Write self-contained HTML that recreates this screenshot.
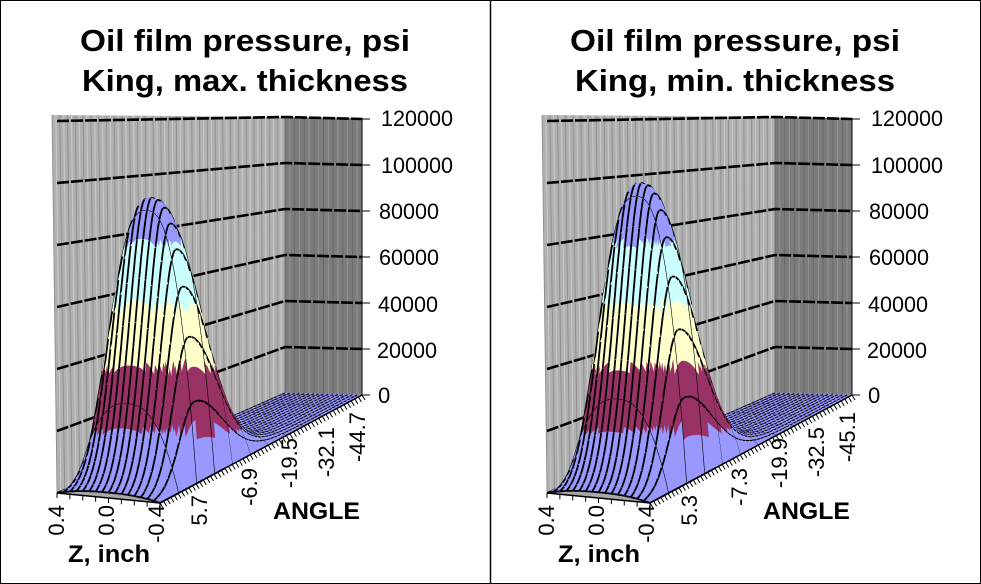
<!DOCTYPE html>
<html><head><meta charset="utf-8"><style>
html,body{margin:0;padding:0;background:#fff}
svg{display:block}
text{font-family:"Liberation Sans",Arial,sans-serif}
</style></head><body>
<svg id="s" width="981" height="584" viewBox="0 0 981 584" xmlns="http://www.w3.org/2000/svg">
<rect x="0.5" y="0.5" width="980" height="583" fill="#fff" stroke="#000"/>
<line x1="490.5" y1="0" x2="490.5" y2="584" stroke="#000" stroke-width="1.5"/>
<g id="c0"></g><g id="c1" transform="translate(490,0)"></g>
<g font-weight="bold" font-size="31" text-anchor="middle">
<text x="245" y="51" textLength="330" lengthAdjust="spacingAndGlyphs">Oil film pressure, psi</text>
<text x="245" y="91" textLength="326" lengthAdjust="spacingAndGlyphs">King, max. thickness</text>
<text x="735" y="51" textLength="330" lengthAdjust="spacingAndGlyphs">Oil film pressure, psi</text>
<text x="735" y="91" textLength="320" lengthAdjust="spacingAndGlyphs">King, min. thickness</text>
</g>
<g font-size="22">
<text x="381" y="126" textLength="72" lengthAdjust="spacingAndGlyphs">120000</text><text x="381" y="173" textLength="72" lengthAdjust="spacingAndGlyphs">100000</text><text x="379" y="219" textLength="60" lengthAdjust="spacingAndGlyphs">80000</text><text x="379" y="265" textLength="60" lengthAdjust="spacingAndGlyphs">60000</text><text x="378" y="312" textLength="60" lengthAdjust="spacingAndGlyphs">40000</text><text x="377" y="358" textLength="60" lengthAdjust="spacingAndGlyphs">20000</text><text x="378" y="403">0</text>
<text transform="translate(64,505) rotate(-90)" text-anchor="end">0.4</text>
<text transform="translate(114,505) rotate(-90)" text-anchor="end">0.0</text>
<text transform="translate(164,505) rotate(-90)" text-anchor="end">-0.4</text>
<text transform="translate(207,495) rotate(-90)" text-anchor="end">5.7</text>
<text transform="translate(257,468) rotate(-90)" text-anchor="end">-6.9</text>
<text transform="translate(297,438) rotate(-90)" text-anchor="end">-19.5</text>
<text transform="translate(334,427) rotate(-90)" text-anchor="end">-32.1</text>
<text transform="translate(365,412) rotate(-90)" text-anchor="end">-44.7</text>
<text x="273" y="519" font-weight="bold" font-size="24" textLength="87" lengthAdjust="spacingAndGlyphs">ANGLE</text>
<text x="68" y="562" font-weight="bold" font-size="24" textLength="82" lengthAdjust="spacingAndGlyphs">Z, inch</text>
</g>
<g font-size="22" transform="translate(490,0)">
<text x="381" y="126" textLength="72" lengthAdjust="spacingAndGlyphs">120000</text><text x="381" y="173" textLength="72" lengthAdjust="spacingAndGlyphs">100000</text><text x="379" y="219" textLength="60" lengthAdjust="spacingAndGlyphs">80000</text><text x="379" y="265" textLength="60" lengthAdjust="spacingAndGlyphs">60000</text><text x="378" y="312" textLength="60" lengthAdjust="spacingAndGlyphs">40000</text><text x="377" y="358" textLength="60" lengthAdjust="spacingAndGlyphs">20000</text><text x="378" y="403">0</text>
<text transform="translate(64,505) rotate(-90)" text-anchor="end">0.4</text>
<text transform="translate(114,505) rotate(-90)" text-anchor="end">0.0</text>
<text transform="translate(164,505) rotate(-90)" text-anchor="end">-0.4</text>
<text transform="translate(207,495) rotate(-90)" text-anchor="end">5.3</text>
<text transform="translate(257,468) rotate(-90)" text-anchor="end">-7.3</text>
<text transform="translate(297,438) rotate(-90)" text-anchor="end">-19.9</text>
<text transform="translate(334,427) rotate(-90)" text-anchor="end">-32.5</text>
<text transform="translate(365,412) rotate(-90)" text-anchor="end">-45.1</text>
<text x="273" y="519" font-weight="bold" font-size="24" textLength="87" lengthAdjust="spacingAndGlyphs">ANGLE</text>
<text x="68" y="562" font-weight="bold" font-size="24" textLength="82" lengthAdjust="spacingAndGlyphs">Z, inch</text>
</g>
</svg>
<script>
(function(){
var NS="http://www.w3.org/2000/svg";
function el(g,t,a){var e=document.createElementNS(NS,t);for(var k in a)e.setAttribute(k,a[k]);g.appendChild(e);return e;}
function L(a,b,t){return [a[0]+(b[0]-a[0])*t,a[1]+(b[1]-a[1])*t];}
var A=[57,493],B=[160,503],C=[362,395],D=[285,393];
function floor(u,v){return L(L(A,B,v),L(D,C,v),u);}
function sc(u){return (62-16*u)/20000;}
function proj(u,v,p){var f=floor(u,v);return [f[0],f[1]-p*sc(u)];}
function pts(a){return a.map(function(q){return q[0].toFixed(1)+","+q[1].toFixed(1)}).join(" ");}
var COLS=["#9999ff","#993366","#ffffcc","#ccffff","#9999ff","#9999ff"];
function colY(y,p){if(p<9000)return COLS[0];var k=Math.floor((493-y)/62.5);if(k<0)k=0;if(k>5)k=5;return COLS[k];}
function draw(g,P){
  var TL=[52,115],TC=[285,117],TR=[362,118];
  el(g,"polygon",{points:pts([TL,TC,D,A]),fill:"#b0b0b0"});
  el(g,"polygon",{points:pts([TC,TR,C,D]),fill:"#7c7c7c"});
  for(var i=0;i<=60;i++){var t=i/60;var a=L(TL,TC,t),b=L(A,D,t);
    el(g,"line",{x1:a[0],y1:a[1],x2:b[0],y2:b[1],stroke:i%2?"#d0d0d0":"#8a8a8a","stroke-width":0.8});}
  for(var i=0;i<=16;i++){var t=i/16;var a=L(TC,TR,t),b=L(D,C,t);
    el(g,"line",{x1:a[0],y1:a[1],x2:b[0],y2:b[1],stroke:i%2?"#999":"#666","stroke-width":0.8});}
  for(var k=0;k<=6;k++){
    var y0=A[1]-62*k,y1=D[1]-46*k,y2=C[1]-46*k;
    if(k>0) el(g,"polyline",{points:"57,"+y0+" 285,"+y1+" 362,"+y2,fill:"none",stroke:"#000","stroke-width":2.6,"stroke-dasharray":"12 2"});
    el(g,"line",{x1:362,y1:y2,x2:370,y2:y2,stroke:"#000","stroke-width":1});
  }
  el(g,"line",{x1:362,y1:118,x2:362,y2:395,stroke:"#000","stroke-width":1});
  el(g,"polygon",{points:pts([A,B,C,D]),fill:"#a8a8a8"});
  var u0=0.2;
  function pr(u,v){var w=u<u0?0.1:0.2;var z=Math.abs(2*v-1);return P*(1-Math.pow(z,2.5))*Math.exp(-Math.pow((u-u0)/w,2));}
  var N=56,M=16,S=4;
  for(var i=N-1;i>=0;i--){for(var j=0;j<M;j++){
    for(var a=0;a<S;a++)for(var b=0;b<S;b++){
      var ua=(i+a/S)/N,ub=(i+(a+1)/S)/N,va=(j+b/S)/M,vb=(j+(b+1)/S)/M;
      var q=[proj(ua,va,pr(ua,va)),proj(ub,va,pr(ub,va)),proj(ub,vb,pr(ub,vb)),proj(ua,vb,pr(ua,vb))];
      var cy=(q[0][1]+q[1][1]+q[2][1]+q[3][1])/4;
      var c=colY(cy,pr((ua+ub)/2,(va+vb)/2));
      el(g,"polygon",{points:pts(q),fill:c,stroke:c,"stroke-width":0.6});
    }
    var u1=i/N,u2=(i+1)/N,v1=j/M,v2=(j+1)/M,sw=i<18?1.8:1.1;
    [v1,v2].forEach(function(v,k){ if(k==1 && j!=M-1) return;
      var o=[];for(var a=0;a<=S;a++){var u=u1+(u2-u1)*a/S;o.push(proj(u,v,pr(u,v)));}
      el(g,"polyline",{points:pts(o),fill:"none",stroke:"#000","stroke-width":sw});});
    if(i%5==0){var o=[];for(var b=0;b<=S;b++){var v=v1+(v2-v1)*b/S;o.push(proj(u1,v,pr(u1,v)));}
      el(g,"polyline",{points:pts(o),fill:"none",stroke:"#000","stroke-width":sw});}
  }}
  for(var j=0;j<=8;j++){var p=L(A,B,j/8);el(g,"line",{x1:p[0],y1:p[1],x2:p[0],y2:p[1]+5,stroke:"#000"});}
  el(g,"line",{x1:A[0],y1:A[1],x2:B[0],y2:B[1],stroke:"#000","stroke-width":1.5});
  el(g,"line",{x1:B[0],y1:B[1],x2:C[0],y2:C[1],stroke:"#000","stroke-width":1.5});
  for(var i=0;i<=56;i++){var p=L(B,C,i/56);el(g,"line",{x1:p[0],y1:p[1],x2:p[0]+3,y2:p[1]+5,stroke:"#000"});}
}
draw(document.getElementById("c0"),95000);
draw(document.getElementById("c1"),100000);
})();
</script>
</body></html>
